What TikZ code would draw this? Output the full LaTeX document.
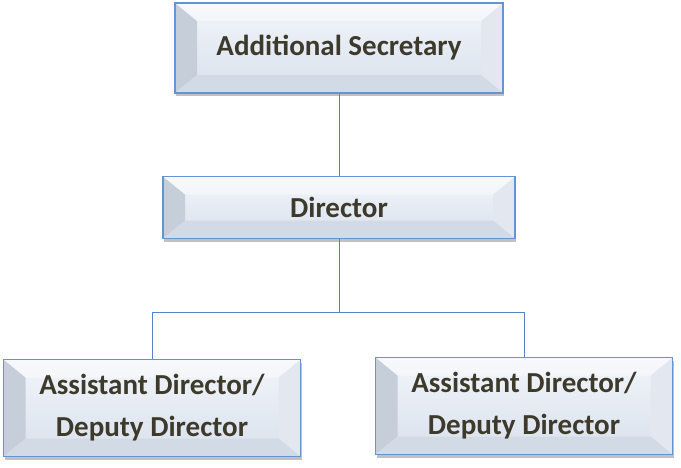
\documentclass[tikz,border=0pt]{standalone}
\usepackage{fontspec}
\setmainfont{Carlito}
\usetikzlibrary{positioning, shadows}

\definecolor{rim}{HTML}{6494D2}
\definecolor{facetop}{HTML}{F2F5FA}
\definecolor{face}{HTML}{D9E1EC}
\definecolor{bevelleft}{HTML}{C6CEDA}
\definecolor{bevelright}{HTML}{E3E8F0}
\definecolor{bevelbottom}{HTML}{D2DAE6}
\definecolor{inktext}{HTML}{3D3A2C}
\definecolor{wire}{HTML}{5584C4}

\begin{document}
\begin{tikzpicture}[x=1pt, y=1pt,
                post/.style={rectangle, draw=rim, line width=1.5pt, top color=facetop, bottom color=face,
                    minimum width=#1, align=center, text=inktext,
                    font=\fontsize{29}{42}\selectfont\bfseries,
                    drop shadow={shadow xshift=1pt, shadow yshift=-3pt, opacity=0.35, fill=black!70},
                    path picture={
                        \fill[bevelleft] (path picture bounding box.north west) -- ++(22pt,-18pt)
                            -- ([shift={(22pt,18pt)}]path picture bounding box.south west)
                            -- (path picture bounding box.south west) -- cycle;
                        \fill[bevelright] (path picture bounding box.north east) -- ++(-22pt,-18pt)
                            -- ([shift={(-22pt,18pt)}]path picture bounding box.south east)
                            -- (path picture bounding box.south east) -- cycle;
                        \fill[bevelbottom] (path picture bounding box.south west) -- ++(22pt,18pt)
                            -- ([shift={(-22pt,18pt)}]path picture bounding box.south east)
                            -- (path picture bounding box.south east) -- cycle;
                        \fill[white, opacity=0.4] (path picture bounding box.north west) -- ++(22pt,-18pt)
                            -- ([shift={(-22pt,-18pt)}]path picture bounding box.north east)
                            -- (path picture bounding box.north east) -- cycle;
                    }},
                link/.style={draw=wire, line width=0.8pt}
            ]
                \useasboundingbox (0,0) rectangle (681,-467);

                \node[post=328pt, minimum height=90pt] (sec) at (339,-48) {Additional Secretary};
                \node[post=352pt, minimum height=62pt, below=82pt of sec] (dir) {Director};
                \coordinate (split) at (339,-312);
                \node[post=297pt, minimum height=97pt] (adl) at (152,-408) {Assistant Director/\\Deputy Director};
                \node[post=297pt, minimum height=97pt] (adr) at (524,-406) {Assistant Director/\\Deputy Director};

                \draw[link] (sec) -- (dir);
                \draw[link] (dir) -- (split);
                \draw[link] (split) -| (adl);
                \draw[link] (split) -| (adr);
            \end{tikzpicture}
\end{document}
